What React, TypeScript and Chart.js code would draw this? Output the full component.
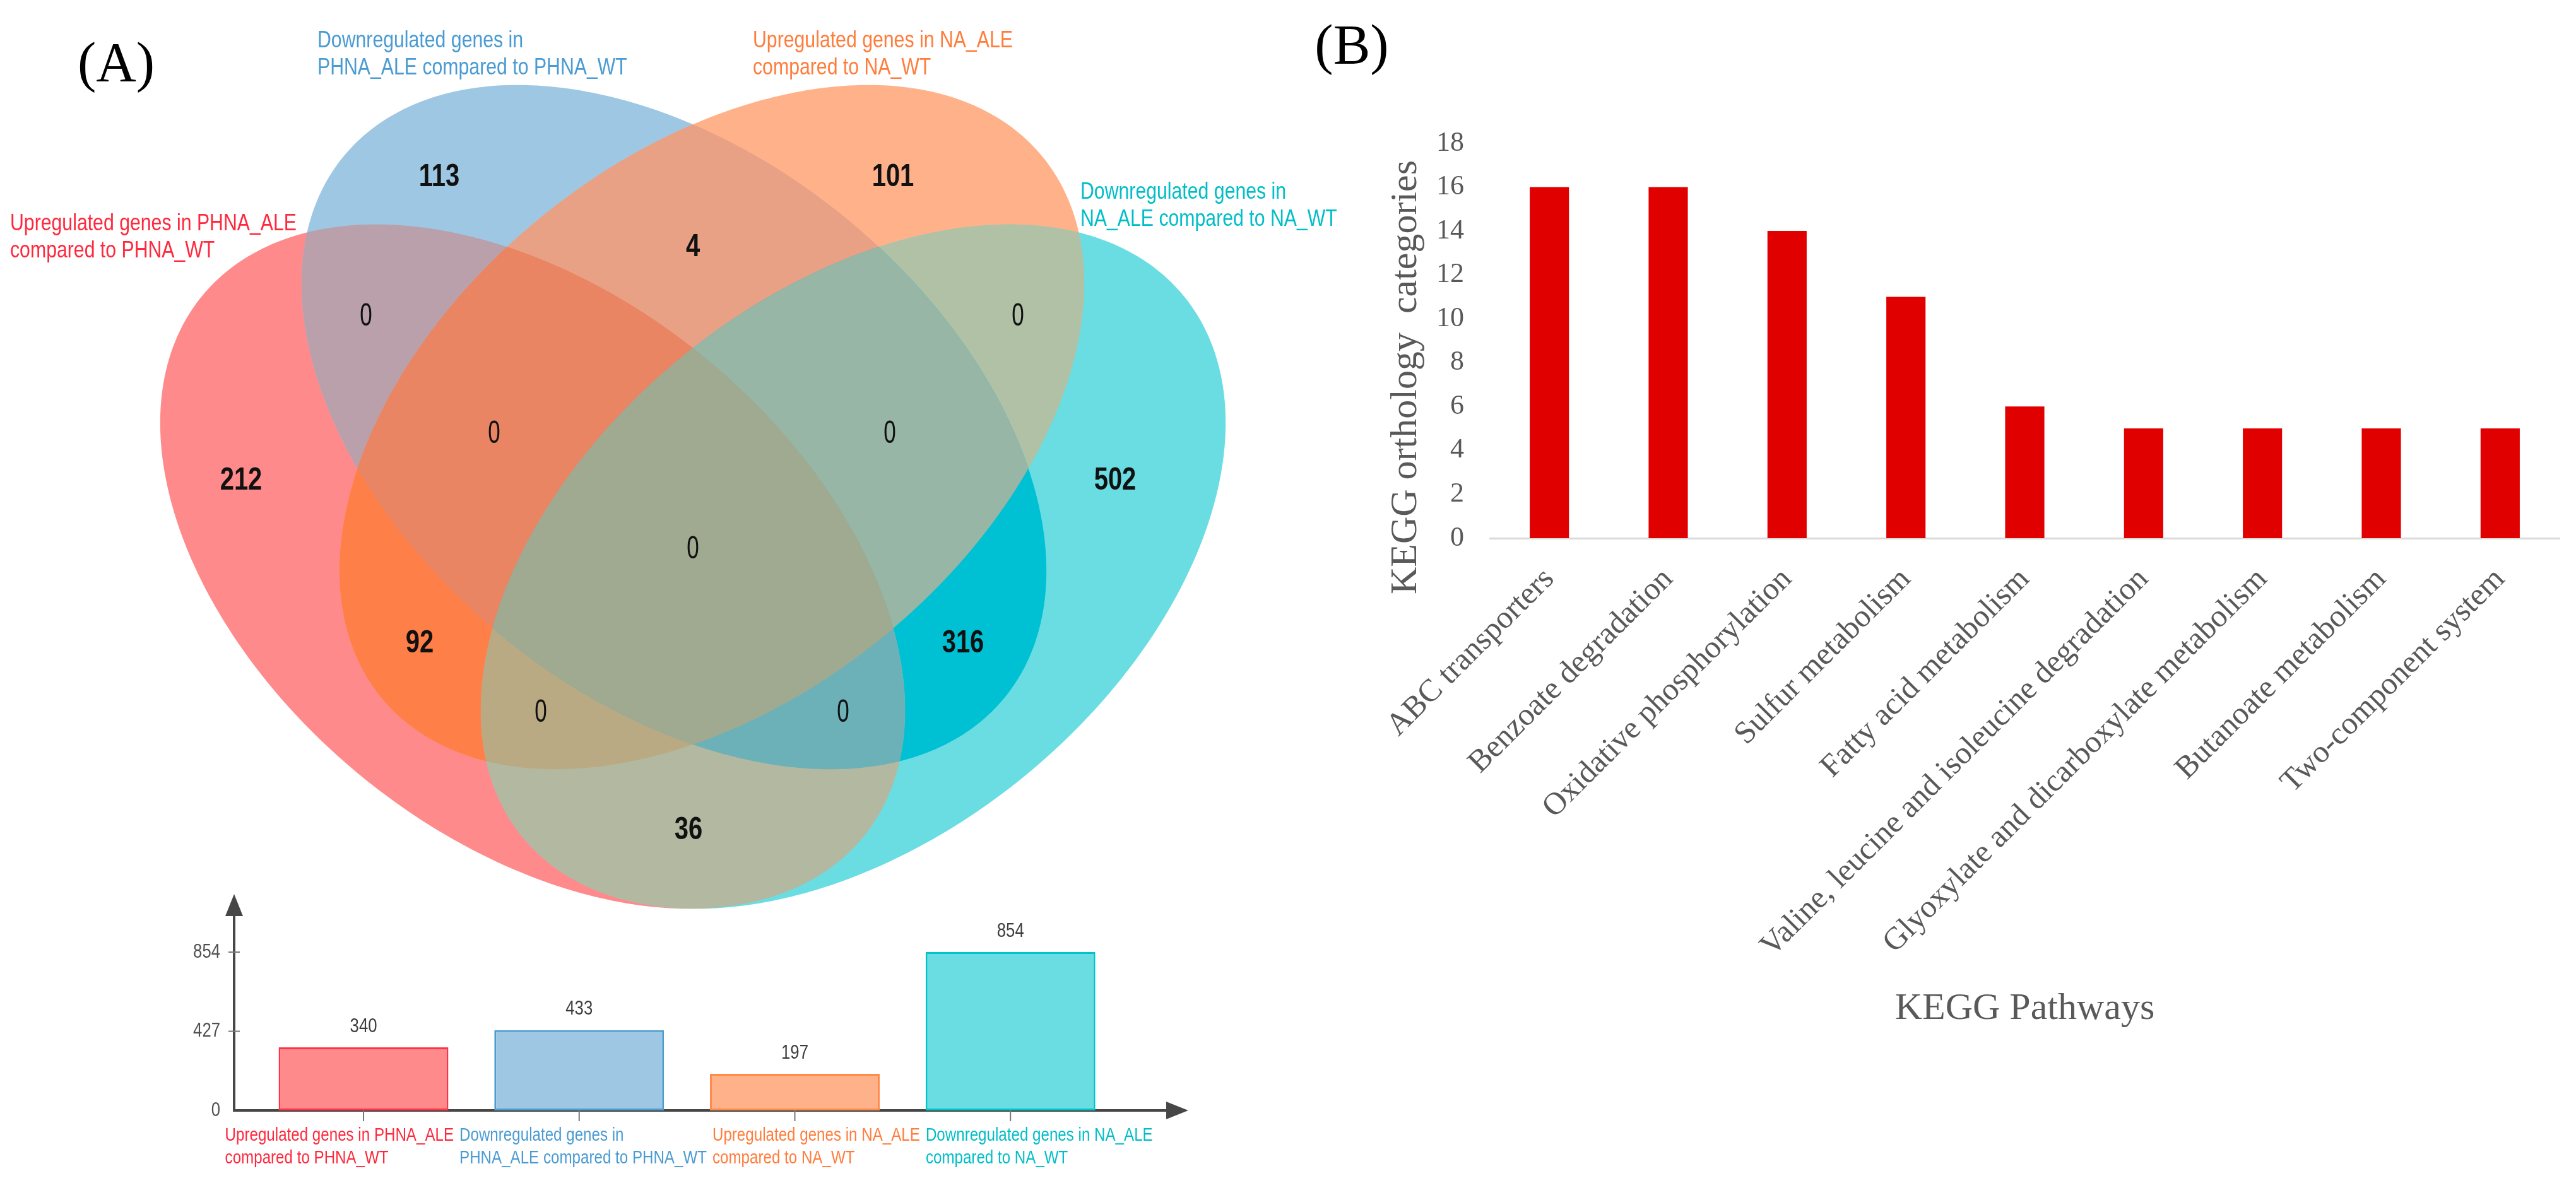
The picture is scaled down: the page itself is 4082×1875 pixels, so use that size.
import React, { useEffect, useRef } from 'react';
import { Chart, registerables } from 'chart.js';

Chart.register(...registerables);

// ---------------- DATA ----------------
// Panel A – Venn diagram (sets A=red, B=blue, C=orange, D=cyan)
const vennSetLabels: string[][] = [
  ['Upregulated genes in PHNA_ALE', 'compared to PHNA_WT'],
  ['Downregulated genes in', 'PHNA_ALE compared to PHNA_WT'],
  ['Upregulated genes in NA_ALE', 'compared to NA_WT'],
  ['Downregulated genes in', 'NA_ALE compared to NA_WT'],
];
const regionSets = ['A', 'B', 'C', 'D', 'AB', 'BC', 'CD', 'AC', 'BD', 'AD', 'ABC', 'BCD', 'ACD', 'ABD', 'ABCD'];
const regionCounts = [212, 113, 101, 502, 0, 4, 0, 92, 316, 36, 0, 0, 0, 0, 0];

// Panel A – set size bar chart
const setBarLabels: string[][] = [
  ['Upregulated genes in PHNA_ALE', 'compared to PHNA_WT'],
  ['Downregulated genes in', 'PHNA_ALE compared to PHNA_WT'],
  ['Upregulated genes in NA_ALE', 'compared to NA_WT'],
  ['Downregulated genes in NA_ALE', 'compared to NA_WT'],
];
const setTotals = [340, 433, 197, 854];
const setTotalTicks = [0, 427, 854];

// Panel B – KEGG pathways
const keggPathways = [
  'ABC transporters',
  'Benzoate degradation',
  'Oxidative phosphorylation',
  'Sulfur metabolism',
  'Fatty acid metabolism',
  'Valine, leucine and isoleucine degradation',
  'Glyoxylate and dicarboxylate metabolism',
  'Butanoate metabolism',
  'Two-component system',
];
const keggCounts = [16, 16, 14, 11, 6, 5, 5, 5, 5];

// ---------------- LAYOUT / STYLE ----------------
const SET_KEYS = ['A', 'B', 'C', 'D'];
// ellipse geometry in diagram units (cx, cy, semi-major, semi-minor, rotation deg)
const VENN_ELLIPSES = [
  { cx: 8.44, cy: 8.98, a: 6.77, b: 4.29, rot: 39.3 },
  { cx: 10.68, cy: 6.77, a: 6.77, b: 4.29, rot: 39.3 },
  { cx: 11.28, cy: 6.77, a: 6.77, b: 4.29, rot: -39.3 },
  { cx: 13.52, cy: 8.98, a: 6.77, b: 4.29, rot: -39.3 },
];
const REGION_COLORS = [
  '#FF8A8C', '#9DC7E2', '#FFB28A', '#6ADDE2',
  '#B9A0AB', '#E8A185', '#B1C1A5', '#FF7F48', '#00C1D4', '#B3B9A0',
  '#EA8563', '#97B6A5', '#BAAA84', '#6DB1B8', '#A0AA90',
];
const REGION_LABEL_POS = [
  [3.82, 7.62], [6.96, 2.81], [14.15, 2.81], [17.67, 7.62],
  [5.8, 5.02], [10.98, 3.92], [16.13, 5.02], [6.65, 10.2], [15.26, 10.2], [10.91, 13.16],
  [7.83, 6.88], [14.1, 6.88], [8.57, 11.3], [13.36, 11.3], [10.98, 8.71],
];
const SET_LABEL_POS = [
  [0.16, 3.55, 3.98],
  [5.03, 0.65, 1.08],
  [11.93, 0.65, 1.08],
  [17.12, 3.05, 3.48],
];
const SET_TEXT_COLORS = ['#FF283C', '#4A9BD2', '#FF7D3C', '#00BEC8'];
const SET_FILL = ['#FF8A8C', '#9DC7E2', '#FFB28A', '#6ADDE2'];
const SET_STROKE = ['#FF3344', '#4D9BD0', '#FF8A4A', '#00C4CC'];

const SANS = '"Liberation Sans", Arial, sans-serif';
const SERIF = '"Liberation Serif", "Times New Roman", serif';

function drawText(ctx: any, text: string, x: number, y: number, font: string, color: string, align: string, scaleX = 1) {
  ctx.save();
  ctx.font = font;
  ctx.fillStyle = color;
  ctx.textBaseline = 'middle';
  ctx.textAlign = align;
  ctx.translate(x, y);
  ctx.scale(scaleX, 1);
  ctx.fillText(text, 0, 0);
  ctx.restore();
}

function ellipsePath(ctx: any, sx: any, sy: any, e: any) {
  const r = (e.rot * Math.PI) / 180;
  const c = Math.cos(r);
  const s = Math.sin(r);
  const N = 360;
  ctx.beginPath();
  for (let k = 0; k <= N; k++) {
    const t = (k / N) * Math.PI * 2;
    const u = e.a * Math.cos(t);
    const v = e.b * Math.sin(t);
    const X = sx.getPixelForValue(e.cx + u * c - v * s);
    const Y = sy.getPixelForValue(e.cy + u * s + v * c);
    if (k === 0) ctx.moveTo(X, Y);
    else ctx.lineTo(X, Y);
  }
  ctx.closePath();
}

const vennPlugin = {
  id: 'vennPlugin',
  afterDraw(chart: any) {
    const { ctx, scales } = chart;
    const sx = scales.x;
    const sy = scales.y;
    // regions painted from singles to the four-way intersection
    regionSets.forEach((key, i) => {
      ctx.save();
      for (const ch of key) {
        ellipsePath(ctx, sx, sy, VENN_ELLIPSES[SET_KEYS.indexOf(ch)]);
        ctx.clip();
      }
      ctx.fillStyle = REGION_COLORS[i];
      ctx.fillRect(0, 0, chart.width, chart.height);
      ctx.restore();
    });
    // region counts
    regionCounts.forEach((n, i) => {
      const [vx, vy] = REGION_LABEL_POS[i];
      const bold = n > 0;
      drawText(ctx, String(n), sx.getPixelForValue(vx), sy.getPixelForValue(vy),
        `${bold ? 'bold ' : ''}50px ${SANS}`, '#111111', 'center', bold ? 0.8 : 0.7);
    });
    // set labels
    vennSetLabels.forEach((lines, i) => {
      const [lx, l1, l2] = SET_LABEL_POS[i];
      [l1, l2].forEach((ly, j) => {
        drawText(ctx, lines[j], sx.getPixelForValue(lx), sy.getPixelForValue(ly),
          `36px ${SANS}`, SET_TEXT_COLORS[i], 'left', 0.84);
      });
    });
    // panel tag
    drawText(ctx, '(A)', sx.getPixelForValue(1.84), sy.getPixelForValue(1.05), `88px ${SERIF}`, '#000000', 'center');
  },
};

const LABEL_SCALE = 0.805;
const LABEL_GAP = 9;

const setBarPlugin = {
  id: 'setBarPlugin',
  afterDraw(chart: any) {
    const { ctx, chartArea, scales } = chart;
    const sx = scales.x;
    const sy = scales.y;
    const axisColor = '#474747';
    ctx.save();
    ctx.fillStyle = axisColor;
    // y arrow
    ctx.beginPath();
    ctx.moveTo(chartArea.left, chartArea.top - 33);
    ctx.lineTo(chartArea.left - 14, chartArea.top + 2);
    ctx.lineTo(chartArea.left + 14, chartArea.top + 2);
    ctx.closePath();
    ctx.fill();
    // x arrow
    ctx.beginPath();
    ctx.moveTo(chartArea.right + 33, chartArea.bottom);
    ctx.lineTo(chartArea.right - 2, chartArea.bottom - 14);
    ctx.lineTo(chartArea.right - 2, chartArea.bottom + 14);
    ctx.closePath();
    ctx.fill();
    // y ticks
    ctx.strokeStyle = '#777777';
    ctx.lineWidth = 2;
    setTotalTicks.forEach((v) => {
      const py = sy.getPixelForValue(v);
      if (v !== 0) {
        ctx.beginPath();
        ctx.moveTo(chartArea.left - 9, py);
        ctx.lineTo(chartArea.left + 9, py);
        ctx.stroke();
      }
      drawText(ctx, String(v), chartArea.left - 22, py, `31px ${SANS}`, '#505050', 'right', 0.83);
    });
    // x ticks and values
    const centers = setTotals.map((_, i) => sx.getPixelForValue(i + 1));
    setTotals.forEach((v, i) => {
      const px = centers[i];
      ctx.strokeStyle = '#777777';
      ctx.beginPath();
      ctx.moveTo(px, chartArea.bottom);
      ctx.lineTo(px, chartArea.bottom + 17);
      ctx.stroke();
      drawText(ctx, String(v), px, sy.getPixelForValue(v) - 33, `31px ${SANS}`, '#3c3c3c', 'center', 0.83);
    });
    // category labels: left-aligned blocks packed in a row centred under the bars
    ctx.font = `30px ${SANS}`;
    const widths = setBarLabels.map((lines) => Math.max(...lines.map((l) => ctx.measureText(l).width)) * LABEL_SCALE);
    const total = widths.reduce((a, b) => a + b, 0) + LABEL_GAP * (widths.length - 1);
    const mid = (centers[0] + centers[centers.length - 1]) / 2;
    let start = mid - total / 2 + 3;
    setBarLabels.forEach((lines, i) => {
      lines.forEach((l, j) => {
        drawText(ctx, l, start, chartArea.bottom + 40 + j * 36, `30px ${SANS}`, SET_TEXT_COLORS[i], 'left', LABEL_SCALE);
      });
      start += widths[i] + LABEL_GAP;
    });
    ctx.restore();
  },
};

const keggPlugin = {
  id: 'keggPlugin',
  afterDraw(chart: any) {
    const { ctx, chartArea } = chart;
    ctx.save();
    ctx.translate(178, 598);
    ctx.rotate(-Math.PI / 2);
    drawText(ctx, 'KEGG orthology  categories', 0, 0, `60px ${SERIF}`, '#595959', 'center');
    ctx.restore();
    drawText(ctx, 'KEGG Pathways', (chartArea.left + chartArea.right) / 2, 1599, `60px ${SERIF}`, '#595959', 'center');
    drawText(ctx, '(B)', 92, 77, `88px ${SERIF}`, '#000000', 'center');
  },
};

function makeVenn(canvas: HTMLCanvasElement) {
  return new Chart(canvas, {
    type: 'scatter',
    data: {
      datasets: [{ data: REGION_LABEL_POS.map(([x, y]) => ({ x, y })), pointRadius: 0 }],
    },
    options: {
      animation: false,
      responsive: false,
      devicePixelRatio: 1,
      events: [],
      layout: { padding: 0 },
      plugins: { legend: { display: false }, tooltip: { enabled: false } },
      scales: {
        x: { type: 'linear', min: 0, max: 21.3, display: false },
        y: { type: 'linear', min: 0, max: 14.8, reverse: true, display: false },
      },
    } as any,
    plugins: [vennPlugin],
  });
}

function makeSetBars(canvas: HTMLCanvasElement) {
  return new Chart(canvas, {
    type: 'bar',
    data: {
      datasets: [
        {
          data: setTotals.map((v, i) => ({ x: i + 1, y: v })),
          backgroundColor: SET_FILL,
          borderColor: SET_STROKE,
          borderWidth: 3,
          borderSkipped: false,
          barPercentage: 0.787,
          categoryPercentage: 1,
        },
      ],
    },
    options: {
      animation: false,
      responsive: false,
      devicePixelRatio: 1,
      events: [],
      layout: { padding: { top: 70, right: 200, left: 0, bottom: 0 } },
      plugins: { legend: { display: false }, tooltip: { enabled: false } },
      scales: {
        x: {
          type: 'linear', min: 0.4, max: 4.728, offset: false, bounds: 'data',
          grid: { display: false, drawTicks: false, offset: false },
          ticks: { display: false },
          border: { display: true, color: '#474747', width: 4 },
          afterBuildTicks: (s: any) => { s.ticks = setTotals.map((_, i) => ({ value: i + 1 })); },
          afterFit: (s: any) => { s.height = 115; },
        },
        y: {
          type: 'linear', min: 0, max: 1055,
          grid: { display: false, drawTicks: false },
          ticks: { display: false },
          border: { display: true, color: '#474747', width: 4 },
          afterFit: (s: any) => { s.width = 371; },
        },
      },
    } as any,
    plugins: [setBarPlugin],
  });
}

function makeKegg(canvas: HTMLCanvasElement) {
  return new Chart(canvas, {
    type: 'bar',
    data: {
      labels: keggPathways,
      datasets: [
        { data: keggCounts, backgroundColor: '#E00000', barPercentage: 0.33, categoryPercentage: 1 },
      ],
    },
    options: {
      animation: false,
      responsive: false,
      devicePixelRatio: 1,
      events: [],
      layout: { padding: { top: 227, right: 26, left: 0, bottom: 0 } },
      plugins: { legend: { display: false }, tooltip: { enabled: false } },
      scales: {
        x: {
          grid: { display: false, drawTicks: false },
          border: { display: true, color: '#D9D9D9', width: 3 },
          ticks: {
            autoSkip: false, maxRotation: 45, minRotation: 45, padding: 36,
            color: '#595959', font: { family: 'Liberation Serif', size: 50 },
          },
          afterFit: (s: any) => { s.height = 1022; },
        },
        y: {
          min: 0, max: 18,
          grid: { display: false, drawTicks: false },
          border: { display: false },
          ticks: { stepSize: 2, padding: 41, color: '#595959', font: { family: 'Liberation Serif', size: 44 } },
          afterFit: (s: any) => { s.width = 311; },
        },
      },
    } as any,
    plugins: [keggPlugin],
  });
}

export default function App() {
  const vennRef = useRef<HTMLCanvasElement>(null);
  const setRef = useRef<HTMLCanvasElement>(null);
  const keggRef = useRef<HTMLCanvasElement>(null);

  useEffect(() => {
    const charts = [
      makeVenn(vennRef.current as HTMLCanvasElement),
      makeSetBars(setRef.current as HTMLCanvasElement),
      makeKegg(keggRef.current as HTMLCanvasElement),
    ];
    return () => charts.forEach((c) => c.destroy());
  }, []);

  return (
    <div style={{ position: 'absolute', left: 0, top: 0, width: 4082, height: 1875, background: '#ffffff', overflow: 'hidden' }}>
      <canvas ref={vennRef} width={2130} height={1480} style={{ position: 'absolute', left: 0, top: 0, width: 2130, height: 1480 }} />
      <canvas ref={setRef} width={2050} height={495} style={{ position: 'absolute', left: 0, top: 1380, width: 2050, height: 495 }} />
      <canvas ref={keggRef} width={2032} height={1875} style={{ position: 'absolute', left: 2050, top: 0, width: 2032, height: 1875 }} />
    </div>
  );
}
